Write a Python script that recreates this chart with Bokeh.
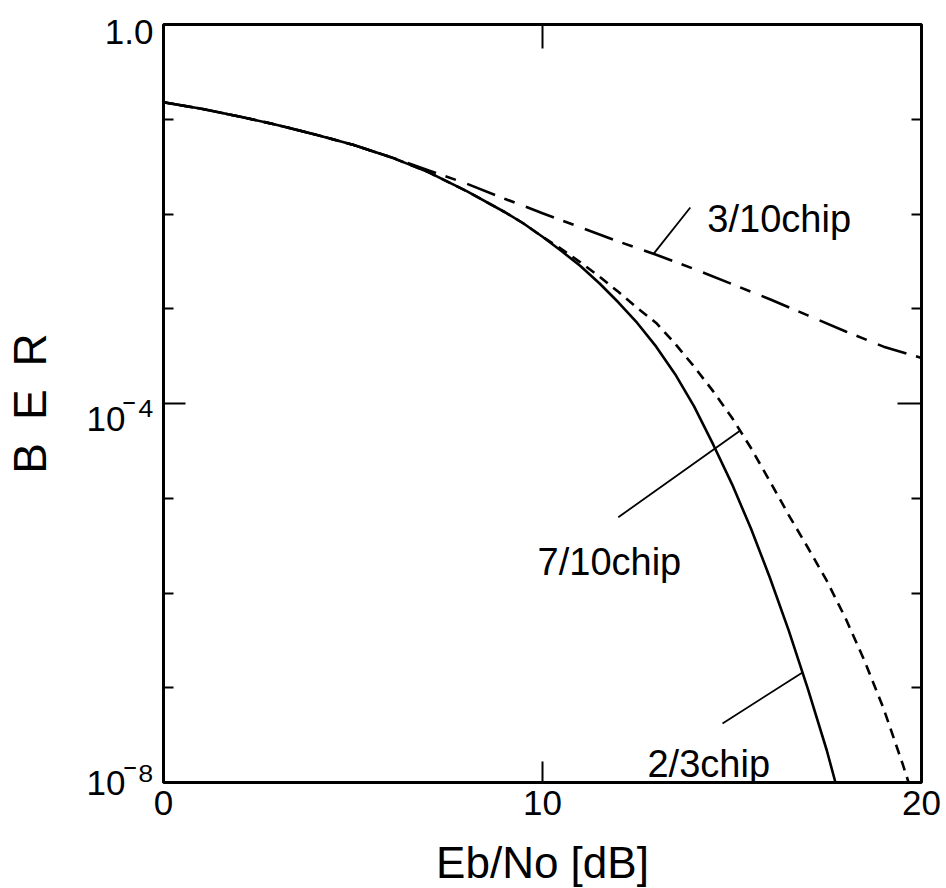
from bokeh.core.properties import value
from bokeh.embed import file_html
from bokeh.models import CustomJSTickFormatter, FixedTicker, LinearAxis, LogAxis
from bokeh.plotting import figure
from bokeh.resources import INLINE

# ---- BER curves (Eb/No in dB, BER) ----
ebno_23 = [0, 1, 2, 3, 4, 5, 6, 7, 8, 9, 9.5, 10, 10.5, 11, 11.5, 12, 12.5, 13,
           13.5, 14, 14.5, 15, 15.5, 16, 16.5, 17, 17.5, 17.73]
ber_23 = [1.51e-1, 1.29e-1, 1.07e-1, 8.71e-2, 6.92e-2, 5.37e-2, 3.98e-2, 2.75e-2,
          1.74e-2, 1.05e-2, 7.94e-3, 5.75e-3, 4.07e-3, 2.82e-3, 1.86e-3, 1.17e-3,
          7.08e-4, 3.98e-4, 2.04e-4, 9.33e-5, 3.72e-5, 1.41e-5, 4.79e-6, 1.45e-6,
          3.98e-7, 9.77e-8, 2.19e-8, 1.0e-8]

ebno_710 = [0, 1, 2, 3, 4, 5, 6, 7, 8, 9, 9.5, 10, 10.5, 11, 11.5, 12, 12.5, 13,
            13.5, 14, 14.5, 15, 15.5, 16, 16.5, 17, 17.5, 18, 18.5, 19, 19.5, 19.66]
ber_710 = [1.51e-1, 1.29e-1, 1.07e-1, 8.71e-2, 6.92e-2, 5.37e-2, 3.98e-2, 2.75e-2,
           1.74e-2, 1.05e-2, 7.94e-3, 5.75e-3, 4.27e-3, 3.09e-3, 2.19e-3, 1.51e-3,
           1.02e-3, 7.08e-4, 4.27e-4, 2.45e-4, 1.35e-4, 7.08e-5, 3.39e-5, 1.51e-5,
           6.61e-6, 3.02e-6, 1.35e-6, 5.37e-7, 1.91e-7, 6.03e-8, 1.58e-8, 1.0e-8]

ebno_310 = [0, 1, 2, 3, 4, 5, 6, 6.5, 7, 8, 9, 10, 11, 12, 13, 14, 15, 16, 17, 18,
            19, 20]
ber_310 = [1.51e-1, 1.29e-1, 1.07e-1, 8.71e-2, 6.92e-2, 5.37e-2, 3.98e-2, 3.39e-2,
           2.88e-2, 2.09e-2, 1.45e-2, 1.02e-2, 7.24e-3, 5.13e-3, 3.72e-3, 2.63e-3,
           1.82e-3, 1.26e-3, 8.51e-4, 5.75e-4, 3.98e-4, 3.02e-4]

# ---- axis ticks and labels ----
x_ticks = [0, 10, 20]
y_major = [1e-4]
y_minor = [1e-1, 1e-2, 1e-3, 1e-5, 1e-6, 1e-7]
top_label_at = [1.0]
top_label_text = ["1.0"]
top_label_drop = [0.079]                    # vertical nudge below the tick, in decades
# decade labels are set as mantissa "10" plus a raised exponent
exp_at = [1e-8, 1e-4]
exp_text = ["\u207b\u2078", "\u207b\u2074"]
exp_drop = [-0.037, 0.106]
base_at = [1e-8, 1e-4]
base_text = ["10", "10"]
base_drop = [0.0, 0.164]
x_title = "Eb/No [dB]"
y_title = "B\u2002E\u2002R"

# ---- curve annotations: text, text anchor, leader line ----
note_text = ["3/10chip", "7/10chip", "2/3chip"]
note_x = [14.35, 9.87, 12.77]
note_y = [8.9e-3, 2.1e-6, 1.58e-8]
leader_x = [[12.93, 13.9], [12.0, 15.22], [14.75, 16.86]]
leader_y = [[3.8e-3, 1.17e-2], [6.3e-6, 5.2e-5], [4.2e-8, 1.45e-7]]

FONT = "Liberation Sans"

p = figure(frame_width=758, frame_height=758, x_range=(0, 20), y_range=(1e-8, 1),
           y_axis_type="log", output_backend="svg", toolbar_location=None,
           min_border_left=163, min_border_right=25, min_border_top=24,
           min_border_bottom=106)
p.grid.visible = False
p.outline_line_color = "black"
p.outline_line_width = 3
p.background_fill_color = "white"
p.border_fill_color = "white"

blank = CustomJSTickFormatter(code="return '';")


def nearest_label(positions, texts):
    return CustomJSTickFormatter(
        args=dict(pos=positions, labels=texts),
        code="""
            let best = 0, err = Infinity;
            for (let i = 0; i < pos.length; i++) {
                const e = Math.abs(Math.log10(pos[i]) - Math.log10(tick));
                if (e < err) { err = e; best = i; }
            }
            return labels[best];
        """)


def shifted(at, drop):
    return [v * 10 ** (-d) for v, d in zip(at, drop)]


# bottom axis: 0 / 10 / 20 and title
xa = p.xaxis[0]
xa.ticker = FixedTicker(ticks=x_ticks)
xa.axis_line_color = None
xa.major_tick_in = 21
xa.major_tick_out = 0
xa.major_tick_line_width = 2
xa.minor_tick_line_color = None
xa.major_label_text_font = FONT
xa.major_label_text_font_size = "35px"
xa.major_label_text_color = "black"
xa.major_label_standoff = 8
xa.axis_label = x_title
xa.axis_label_text_font = FONT
xa.axis_label_text_font_size = "44px"
xa.axis_label_text_font_style = "normal"
xa.axis_label_text_color = "black"
xa.axis_label_standoff = 20

# top axis: single inward tick at 10 dB
ta = LinearAxis(ticker=FixedTicker(ticks=[10]), formatter=blank,
                axis_line_color=None, major_tick_in=24, major_tick_out=0,
                major_tick_line_width=2, minor_tick_line_color=None,
                major_label_standoff=0)
p.add_layout(ta, "above")

# left log axis: long tick at 1e-4, short ticks at every other decade
ya = p.yaxis[0]
ya.ticker = FixedTicker(ticks=y_major, minor_ticks=y_minor)
ya.formatter = blank
ya.axis_line_color = None
ya.major_tick_in = 22
ya.major_tick_out = 0
ya.minor_tick_in = 10
ya.minor_tick_out = 0
ya.major_tick_line_width = 2
ya.minor_tick_line_width = 2
ya.major_label_standoff = 0

label_style = dict(axis_line_color=None, major_tick_line_color=None, major_tick_in=0,
                   major_tick_out=0, minor_tick_line_color=None,
                   major_label_text_font=FONT, major_label_text_color="black")

# "1.0" at the top of the scale
top_pos = shifted(top_label_at, top_label_drop)
oa = LogAxis(ticker=FixedTicker(ticks=top_pos, minor_ticks=[]),
             formatter=nearest_label(top_pos, top_label_text),
             major_label_standoff=10, major_label_text_font_size="35px",
             **label_style)
p.add_layout(oa, "left")

# raised exponents, pulled back against the frame
exp_pos = shifted(exp_at, exp_drop)
ea = LogAxis(ticker=FixedTicker(ticks=exp_pos, minor_ticks=[]),
             formatter=nearest_label(exp_pos, exp_text),
             major_label_standoff=-53, major_label_text_font_size="42px",
             **label_style)
p.add_layout(ea, "left")

# mantissas "10" just left of their exponents, plus the BER title
base_pos = shifted(base_at, base_drop)
ba = LogAxis(ticker=FixedTicker(ticks=base_pos, minor_ticks=[]),
             formatter=nearest_label(base_pos, base_text),
             major_label_standoff=-24, major_label_text_font_size="35px",
             axis_label=y_title, axis_label_text_font=FONT,
             axis_label_text_font_size="46px", axis_label_text_font_style="normal",
             axis_label_text_color="black", axis_label_standoff=28, **label_style)
p.add_layout(ba, "left")

# right log axis, ticks only
ra = LogAxis(ticker=FixedTicker(ticks=y_major, minor_ticks=y_minor), formatter=blank,
             axis_line_color=None, major_tick_in=24, major_tick_out=0,
             minor_tick_in=10, minor_tick_out=0, major_tick_line_width=2,
             minor_tick_line_width=2, major_label_standoff=0)
p.add_layout(ra, "right")

# curves
p.line(ebno_23, ber_23, line_color="black", line_width=2.6)
p.line(ebno_710, ber_710, line_color="black", line_width=2.6, line_dash="10 7")
p.line(ebno_310, ber_310, line_color="black", line_width=2.6, line_dash="30 10 11 12")

# leader lines and curve names
p.multi_line(leader_x, leader_y, line_color="black", line_width=1.8)
p.text(x=note_x, y=note_y, text=note_text, text_font=value(FONT),
       text_font_size="38px", text_align="left", text_baseline="alphabetic",
       text_color="black")

open("out.html", "w").write(file_html(p, INLINE))
